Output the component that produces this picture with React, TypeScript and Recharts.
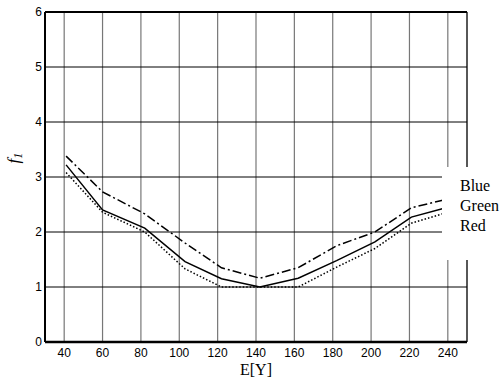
import React from 'react';
import {
    LineChart,
    Line,
    XAxis,
    YAxis,
    CartesianGrid,
    ReferenceLine,
} from 'recharts';

// E[Y] positions of the computed points
const eY = [41, 60, 82, 103, 122, 142, 162, 182, 202, 221, 240];
const blue = [3.38, 2.73, 2.33, 1.8, 1.35, 1.16, 1.35, 1.75, 2.0, 2.44, 2.6];
const green = [3.22, 2.4, 2.07, 1.46, 1.15, 1.0, 1.16, 1.48, 1.82, 2.27, 2.45];
const red = [3.08, 2.36, 2.0, 1.33, 1.0, 1.0, 1.0, 1.36, 1.7, 2.16, 2.36];

const xTicks = [40, 60, 80, 100, 120, 140, 160, 180, 200, 220, 240];
const yTicks = [0, 1, 2, 3, 4, 5, 6];
const legendNames = ['Blue', 'Green', 'Red'];

const data = eY.map((e, i) => ({ e, blue: blue[i], green: green[i], red: red[i] }));

const tickStyle = { fontFamily: 'Liberation Sans, Arial, sans-serif', fontSize: 12, fill: '#000' };
const serif = 'Liberation Serif, Times New Roman, serif';

const YLabel = () => {
    const cx = 19;
    const cy = 158;
    return (
        <text
            x={cx}
            y={cy}
            transform={`rotate(-90 ${cx} ${cy})`}
            textAnchor="middle"
            fontFamily={serif}
            fontStyle="italic"
            fontSize={17}
            fill="#000"
        >
            f<tspan fontSize={12} dy={3}>1</tspan>
        </text>
    );
};

// legend sits on a white box over the right edge of the plot, like the original
const LegendBox = () => (
    <div
        style={{
            position: 'absolute',
            left: 442,
            top: 167,
            width: 62,
            height: 93,
            background: '#fff',
            fontFamily: serif,
            fontSize: 16,
            lineHeight: '20px',
            color: '#000',
            paddingLeft: 18,
            paddingTop: 9,
            boxSizing: 'border-box',
            whiteSpace: 'nowrap',
            overflow: 'hidden',
        }}
    >
        {legendNames.map((n) => (
            <div key={n}>{n}</div>
        ))}
    </div>
);

export default function App() {
    return (
        <div style={{ position: 'absolute', left: 0, top: 0, width: 504, height: 385, background: '#fff', overflow: 'hidden' }}>
            <LineChart width={504} height={385} data={data} margin={{ top: 12, right: 37, left: 20, bottom: 18 }}>
                <CartesianGrid horizontal={false} stroke="#777" strokeWidth={1.2} />
                <CartesianGrid vertical={false} stroke="#000" strokeWidth={1} />
                <XAxis
                    dataKey="e"
                    type="number"
                    domain={[30, 250]}
                    ticks={xTicks}
                    tick={tickStyle}
                    tickLine={false}
                    tickSize={6}
                    tickMargin={0}
                    axisLine={{ stroke: '#000', strokeWidth: 2.5 }}
                    height={25}
                    label={{
                        value: 'E[Y]',
                        position: 'insideBottom',
                        offset: -8,
                        style: { fontFamily: serif, fontSize: 16, fill: '#000' },
                    }}
                />
                <YAxis
                    type="number"
                    domain={[0, 6]}
                    ticks={yTicks}
                    tick={tickStyle}
                    tickLine={false}
                    tickSize={3}
                    tickMargin={0}
                    axisLine={{ stroke: '#000', strokeWidth: 2 }}
                    width={25}
                    label={<YLabel />}
                />
                <ReferenceLine y={6} stroke="#000" strokeWidth={2} />
                <ReferenceLine x={250} stroke="#000" strokeWidth={1} />
                <Line dataKey="blue" stroke="#000" strokeWidth={1.5} strokeDasharray="9 3 2 3" dot={false} isAnimationActive={false} />
                <Line dataKey="green" stroke="#000" strokeWidth={1.5} dot={false} isAnimationActive={false} />
                <Line dataKey="red" stroke="#000" strokeWidth={1.5} strokeDasharray="1.5 2" dot={false} isAnimationActive={false} />
            </LineChart>
            <LegendBox />
        </div>
    );
}
